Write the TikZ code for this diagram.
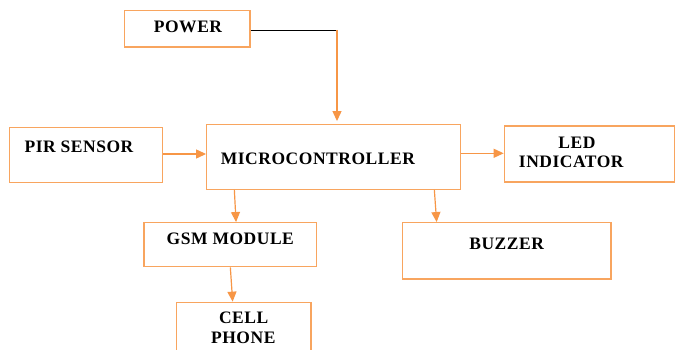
\documentclass[tikz,border=0pt]{standalone}
\usepackage{fontspec}
\setmainfont{Liberation Serif}
\newfontfamily\lblfont[LetterSpace=3]{Liberation Serif}
\usetikzlibrary{arrows.meta,calc}
\definecolor{boxorange}{RGB}{248,165,95}
\definecolor{arroworange}{RGB}{247,150,70}
\begin{document}
\begin{tikzpicture}[x=1pt,y=-1pt,
  box/.style={draw=boxorange,line width=1.3pt,rectangle,inner sep=0pt},
  lbl/.style={font=\lblfont\bfseries\fontsize{17.5}{19}\selectfont,anchor=base,inner sep=0pt},
  conn/.style={draw=arroworange,line width=1.2pt,-{Triangle[length=10pt,width=9pt]}}]
\useasboundingbox (0,0) rectangle (681,350);
\fill[white] (0,0) rectangle (681,350);
% boxes
\node[box,minimum width=125.5pt,minimum height=36.5pt] (power) at (187.25,28.75) {};
\node[box,minimum width=153pt,minimum height=55pt] (pir) at (86.2,155.2) {};
\node[box,minimum width=254pt,minimum height=64.6pt] (micro) at (333.7,157) {};
\node[box,minimum width=170pt,minimum height=56pt] (led) at (589.3,154) {};
\node[box,minimum width=172.7pt,minimum height=44pt] (gsm) at (230.35,244.7) {};
\node[box,minimum width=208.3pt,minimum height=56.3pt] (buzzer) at (506.85,250.85) {};
\node[box,minimum width=134.3pt,minimum height=56pt] (cell) at (243.85,330.3) {};
% labels
\node[lbl] (tpower) at (188,32.3) {POWER};
\node[lbl] (tpir) at (79,152.7) {PIR SENSOR};
\node[lbl] (tmicro) at (317.9,165) {MICROCONTROLLER};
\node[lbl] (tled1) at (577,148.3) {LED};
\node[lbl] (tled2) at (571.3,167.7) {INDICATOR};
\node[lbl] (tgsm) at (230.3,244.3) {GSM MODULE};
\node[lbl] (tbuzzer) at (506.7,249.3) {BUZZER};
\node[lbl] (tcell1) at (243.7,323.3) {CELL};
\node[lbl] (tcell2) at (243.3,343.3) {PHONE};
% connectors
\coordinate (pcorner) at (337,30);
\draw[black,line width=0.9pt] (power.east |- 0,30) -- (pcorner);
\draw[conn,shorten >=3pt] (pcorner) -- (pcorner |- micro.north);
\draw[conn] (pir.east |- 0,154) -- (micro.west |- 0,154);
\draw[conn] (micro.east |- 0,153.3) -- (led.west |- 0,153.3);
\draw[conn] ($(micro.south west)+(28.3,0)$) -- ($(gsm.north west)+(92.7,0)$);
\draw[conn] ($(micro.south west)+(228.3,0)$) -- ($(buzzer.north west)+(34.6,0)$);
\draw[conn] ($(gsm.south west)+(87,0)$) -- ($(cell.north west)+(56.6,0)$);
\end{tikzpicture}
\end{document}
